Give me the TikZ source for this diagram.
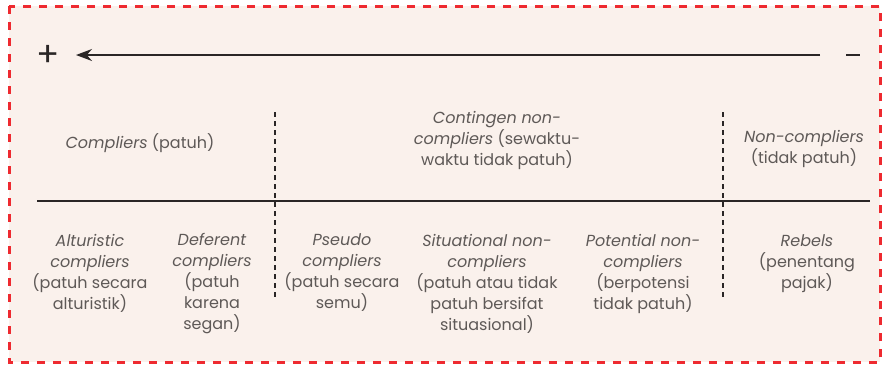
\documentclass[tikz,border=0pt]{standalone}
\usepackage{fontspec}
\setmainfont{Poppins}
\usetikzlibrary{arrows.meta}
\definecolor{bgc}{HTML}{FAF1EC}
\definecolor{redb}{HTML}{EE2A30}
\definecolor{txt}{HTML}{5E5957}
\definecolor{ink}{HTML}{2A2626}
\tikzset{
  lbl/.style={align=center, text=txt, font=\fontsize{16}{21}\selectfont, inner sep=0pt},
  vdash/.style={draw=ink, line width=1.2pt, dash pattern=on 5pt off 4pt},
}
\begin{document}
\begin{tikzpicture}[x=1pt,y=-1pt]
\useasboundingbox (0,0) rectangle (884,365);
\fill[white] (0,0) rectangle (884,365);
\draw[redb, fill=bgc, line width=3pt, dash pattern=on 8pt off 8pt] (9,6) rectangle (880,362);
% top arrow
\coordinate (aR) at (820,55);
\coordinate (aL) at (76,55);
\draw[ink, line width=1.6pt, -{Stealth[length=16pt,width=12pt]}] (aR) -- (aL);
\node[text=ink, font=\fontsize{34}{34}\selectfont, inner sep=0pt] (plus) at (48,56) {+};
\coordinate (mL) at (846,55);
\coordinate (mR) at (860,55);
\draw[ink, line width=2.8pt] (mL) -- (mR);
% main horizontal line
\coordinate (hL) at (37,201);
\coordinate (hR) at (870,201);
\draw[ink, line width=2.6pt] (hL) -- (hR);
% dashed verticals
\coordinate (v1t) at (275,112); \coordinate (v1b) at (275,299);
\coordinate (v2t) at (723,112); \coordinate (v2b) at (723,299);
\draw[vdash] (v1t) -- (v1b);
\draw[vdash] (v2t) -- (v2b);
% top labels
\node[lbl] (comp) at (140,143) {\textit{Compliers} (patuh)};
\node[lbl] (cont) at (497,140) {\textit{Contingen non-}\\\textit{compliers} (sewaktu-\\waktu tidak patuh)};
\node[lbl] (nonc) at (804,148.5) {\textit{Non-compliers}\\(tidak patuh)};
% bottom labels
\node[lbl] (alt) at (90,273) {\textit{Alturistic}\\\textit{compliers}\\(patuh secara\\alturistik)};
\node[lbl] (def) at (212,284) {\textit{Deferent}\\\textit{compliers}\\(patuh\\karena\\segan)};
\node[lbl] (pse) at (342,273) {\textit{Pseudo}\\\textit{compliers}\\(patuh secara\\semu)};
\node[lbl] (sit) at (487,284) {\textit{Situational non-}\\\textit{compliers}\\(patuh atau tidak\\patuh bersifat\\situasional)};
\node[lbl] (pot) at (643,273.5) {\textit{Potential non-}\\\textit{compliers}\\(berpotensi\\tidak patuh)};
\node[lbl] (reb) at (807,263.5) {\textit{Rebels}\\(penentang\\pajak)};
\end{tikzpicture}
\end{document}
